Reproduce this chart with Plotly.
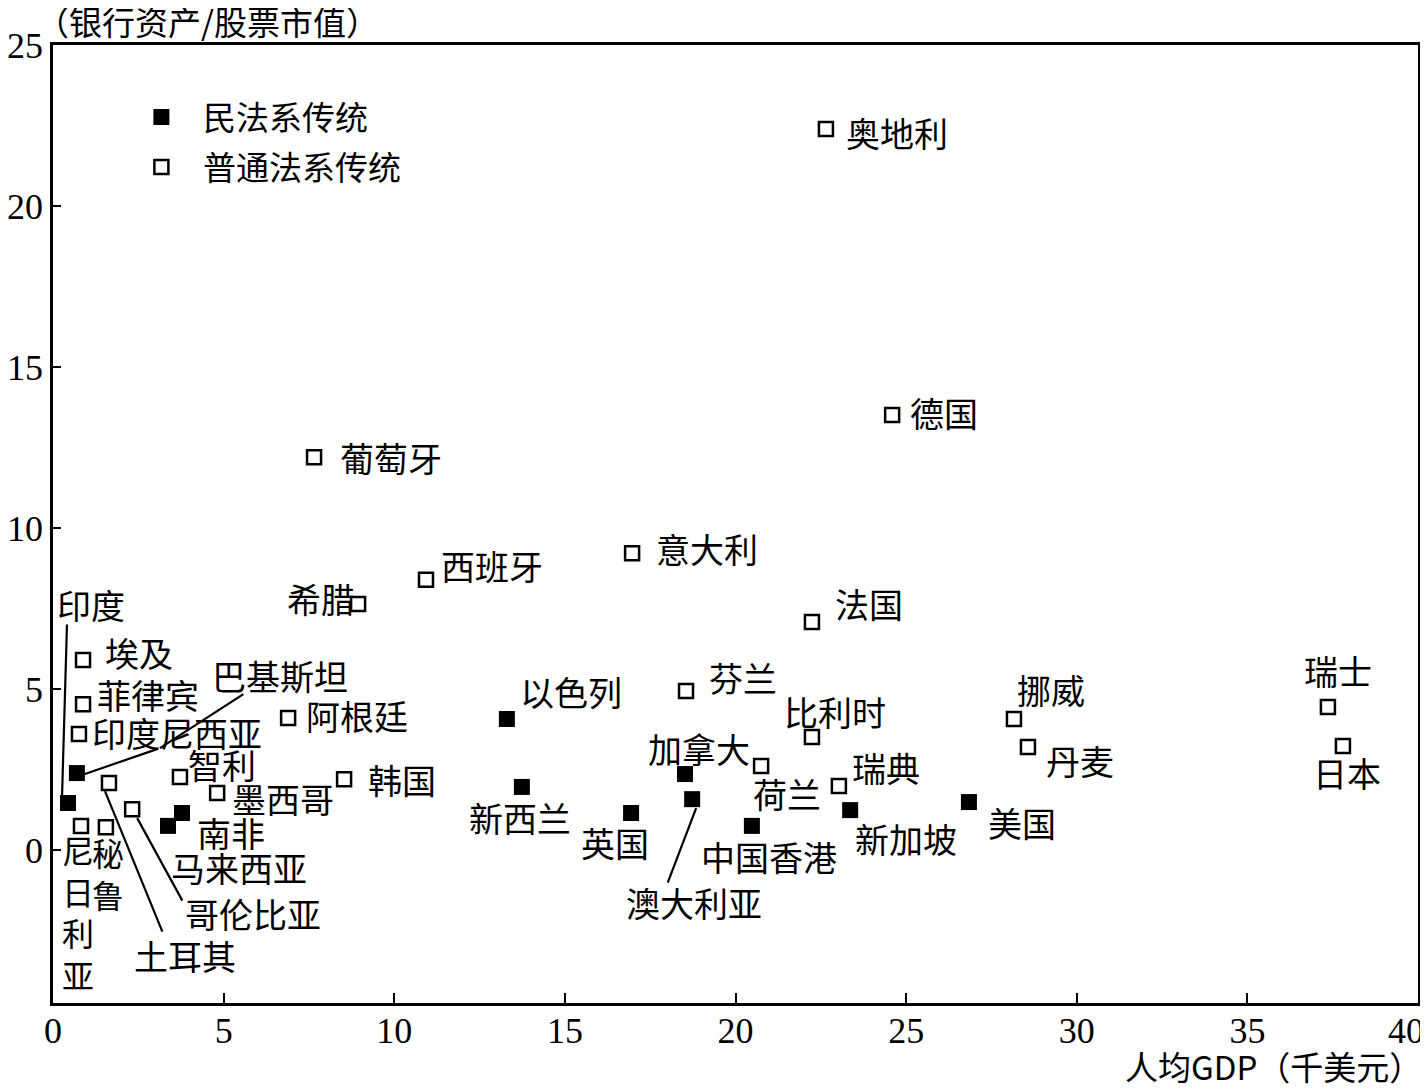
import plotly.graph_objects as go

# ---- data ----
civil_names = ["印度", "巴基斯坦", "南非", "马来西亚", "以色列", "新西兰", "英国",
               "加拿大", "澳大利亚", "中国香港", "新加坡", "美国"]
civil_gdp = [0.44, 0.70, 3.78, 3.37, 13.30, 13.74, 16.94, 18.52, 18.73, 20.48, 23.36, 26.84]
civil_ratio = [1.46, 2.39, 1.15, 0.75, 4.07, 1.96, 1.15, 2.36, 1.58, 0.75, 1.24, 1.49]

common_names = ["奥地利", "德国", "葡萄牙", "西班牙", "意大利", "希腊", "法国", "埃及",
                "菲律宾", "印度尼西亚", "阿根廷", "智利", "墨西哥", "韩国", "哥伦比亚",
                "土耳其", "尼日利亚", "秘鲁", "芬兰", "比利时", "荷兰", "瑞典", "挪威",
                "丹麦", "瑞士", "日本"]
common_gdp = [22.65, 24.59, 7.65, 10.93, 16.97, 8.94, 22.24, 0.88, 0.88, 0.76, 6.89, 3.72,
              4.81, 8.53, 2.32, 1.64, 0.82, 1.55, 18.55, 22.24, 20.75, 23.03, 28.16, 28.57,
              37.36, 37.80]
common_ratio = [22.39, 13.51, 12.20, 8.39, 9.22, 7.64, 7.08, 5.90, 4.53, 3.60, 4.10, 2.27,
                1.77, 2.20, 1.27, 2.08, 0.75, 0.71, 4.94, 3.51, 2.61, 1.99, 4.07, 3.20,
                4.44, 3.23]

x_ticks = [0, 5, 10, 15, 20, 25, 30, 35, 40]
x_ticktext = ["0", "5", "10", "15", "20", "25", "30", "35", ""]  # "40" drawn separately
x_last_label = "40"
y_ticks = [0, 5, 10, 15, 20, 25]

legend_civil = "民法系传统"
legend_common = "普通法系传统"
x_title = "人均GDP（千美元）"
y_title = "（银行资产/股票市值）"

# ---- label placement (pixel offsets of label centre from marker centre) ----
label_offsets = {
    "奥地利": (71, 3), "德国": (52, -3), "葡萄牙": (77, 0), "西班牙": (66, -14),
    "意大利": (75, -5), "希腊": (-37, -6), "法国": (57, -19), "埃及": (56, -8),
    "菲律宾": (65, -10), "印度尼西亚": (98, -2), "阿根廷": (69, -3), "智利": (42, -12),
    "墨西哥": (66, 5), "韩国": (58, 0), "哥伦比亚": (121, 104), "土耳其": (76, 172),
    "尼日利亚": (-3, 86), "秘鲁": (2, 46), "芬兰": (57, -13), "比利时": (23, -26),
    "荷兰": (26, 27), "瑞典": (47, -18), "挪威": (37, -29), "丹麦": (52, 13),
    "瑞士": (10, -37), "日本": (4, 26),
    "印度": (23, -199), "巴基斯坦": (203, -98), "南非": (49, 19), "马来西亚": (71, 42),
    "以色列": (64, -27), "新西兰": (-2, 31), "英国": (-16, 29), "加拿大": (14, -26),
    "澳大利亚": (2, 103), "中国香港": (17, 31), "新加坡": (56, 28), "美国": (53, 20),
}
vertical_labels = {"尼日利亚", "秘鲁"}

# leader lines: (head offset, tail offset) in pixels relative to marker centre
leaders = {
    "印度": [((-6, -6), (-1, -180))],
    "巴基斯坦": [((8, 1), (83, -25)), ((83, -25), (168, -80))],
    "哥伦比亚": [((5, 9), (51, 93))],
    "土耳其": [((-4, 8), (54, 150))],
    "澳大利亚": [((4, 9), (-25, 85))],
}

CJK = "Noto Sans CJK SC"
SERIF = "Liberation Serif"

fig = go.Figure()
fig.add_trace(go.Scatter(
    x=civil_gdp, y=civil_ratio, mode="markers", name=legend_civil,
    legendgroup="a",
    marker=dict(symbol="square", size=16, color="black", line=dict(width=0)),
    hovertext=civil_names,
))
fig.add_trace(go.Scatter(
    x=common_gdp, y=common_ratio, mode="markers", name=legend_common,
    legendgroup="b",
    marker=dict(symbol="square-open", size=14, color="black", line=dict(width=2.5)),
    hovertext=common_names,
))

annotations = []
all_pts = list(zip(civil_names, civil_gdp, civil_ratio)) + \
    list(zip(common_names, common_gdp, common_ratio))
for name, gx, gy in all_pts:
    dx, dy = label_offsets[name]
    text = "<br>".join(list(name)) if name in vertical_labels else name
    annotations.append(dict(
        x=gx, y=gy, xref="x", yref="y", text=text, showarrow=False,
        xanchor="center", yanchor="middle", xshift=dx, yshift=-dy,
        font=dict(family=CJK, size=34 if name not in vertical_labels else 32,
                  color="black"),
    ))
    for (hx, hy), (tx, ty) in leaders.get(name, []):
        annotations.append(dict(
            x=gx, y=gy, xref="x", yref="y", text="", showarrow=True,
            arrowhead=0, arrowwidth=2.2, arrowcolor="black", standoff=0,
            xshift=hx, yshift=-hy, ax=tx - hx, ay=ty - hy,
        ))

annotations.append(dict(
    x=0, y=1, xref="paper", yref="paper", text=y_title, showarrow=False,
    xanchor="left", yanchor="middle", xshift=-19, yshift=24,
    font=dict(family=CJK, size=33, color="black"),
))
annotations.append(dict(
    x=1, y=0, xref="paper", yref="paper", text=x_title, showarrow=False,
    xanchor="right", yanchor="middle", xshift=6, yshift=-63,
    font=dict(family=CJK, size=33, color="black"),
))
annotations.append(dict(
    x=x_ticks[-1], y=0, xref="x", yref="paper", text=x_last_label, showarrow=False,
    xanchor="right", yanchor="top", xshift=8, yshift=-6,
    font=dict(family=SERIF, size=36, color="black"),
))

axis_common = dict(
    showline=True, linewidth=2.5, linecolor="black", mirror=True,
    ticks="inside", tickwidth=2, tickcolor="black",
    showgrid=False, zeroline=False, automargin=False,
    tickfont=dict(family=SERIF, size=36, color="black"),
)

# the page body adds an 8px offset, so the figure is drawn 8px right/down
fig.update_layout(
    width=1420, height=1081,
    margin=dict(l=45, r=10, t=37, b=86),
    paper_bgcolor="white", plot_bgcolor="white",
    xaxis=dict(range=[0, 40], tickvals=x_ticks, ticktext=x_ticktext, ticklen=10,
               ticklabelstandoff=-6, **axis_common),
    yaxis=dict(range=[-4.75, 25], tickvals=y_ticks, ticklen=8, **axis_common),
    showlegend=True,
    legend=dict(
        x=0.049, y=0.954, xanchor="left", yanchor="top",
        font=dict(family=CJK, size=33, color="black"),
        bgcolor="rgba(0,0,0,0)", itemwidth=73,
        traceorder="grouped", tracegroupgap=4,
    ),
    annotations=annotations,
)

fig.write_html("out.html")
